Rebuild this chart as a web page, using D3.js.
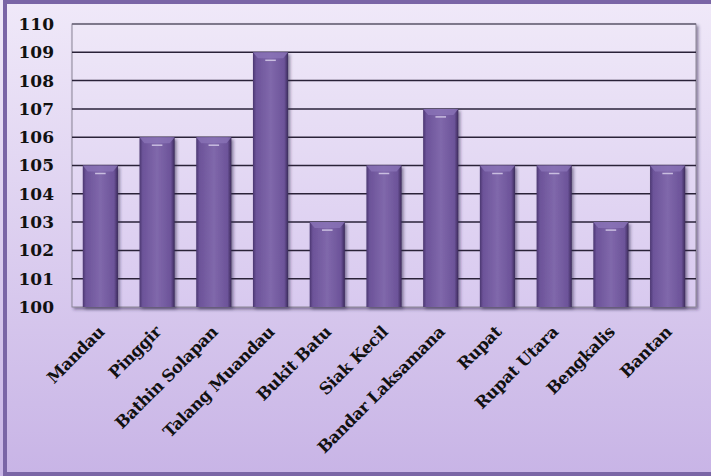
<!DOCTYPE html>
<html>
<head>
<meta charset="utf-8">
<script src="https://cdn.jsdelivr.net/npm/d3@7"></script>
<style>
  body { margin: 0; padding: 0; background: #fff; }
  svg { display: block; }
</style>
</head>
<body>
<div id="chart"></div>
<script>
// data
const kecamatan = ["Mandau", "Pinggir", "Bathin Solapan", "Talang Muandau", "Bukit Batu",
  "Siak Kecil", "Bandar Laksamana", "Rupat", "Rupat Utara", "Bengkalis", "Bantan"];
const nilai = [105, 106, 106, 109, 103, 105, 107, 105, 105, 103, 105];
const yTicks = [100, 101, 102, 103, 104, 105, 106, 107, 108, 109, 110];

const W = 711, H = 476;
const margin = {top: 24, right: 15, bottom: 169, left: 72};
const width = W - margin.left - margin.right,
    height = H - margin.top - margin.bottom;

const svg = d3.select("#chart")
  .append("svg")
    .attr("width", W)
    .attr("height", H);

const defs = svg.append("defs");

// outer background gradient
const bg = defs.append("linearGradient").attr("id", "bg")
  .attr("x1", 0).attr("y1", 0).attr("x2", 0).attr("y2", 1);
bg.append("stop").attr("offset", "0%").attr("stop-color", "#f0e9f9");
bg.append("stop").attr("offset", "100%").attr("stop-color", "#c8b4e6");

// plot area gradient
const pa = defs.append("linearGradient").attr("id", "pa")
  .attr("x1", 0).attr("y1", 0).attr("x2", 0).attr("y2", 1);
pa.append("stop").attr("offset", "0%").attr("stop-color", "#efe8f8");
pa.append("stop").attr("offset", "100%").attr("stop-color", "#d8c9ef");

// bar gradient (bevel look)
const bar = defs.append("linearGradient").attr("id", "bar")
  .attr("x1", 0).attr("y1", 0).attr("x2", 1).attr("y2", 0);
bar.append("stop").attr("offset", "0%").attr("stop-color", "#4a3670");
bar.append("stop").attr("offset", "9%").attr("stop-color", "#6c5399");
bar.append("stop").attr("offset", "50%").attr("stop-color", "#8068ab");
bar.append("stop").attr("offset", "89%").attr("stop-color", "#6c5399");
bar.append("stop").attr("offset", "100%").attr("stop-color", "#3b2a5a");

const shadow = defs.append("filter").attr("id", "shadow")
  .attr("x", "-20%").attr("y", "-5%").attr("width", "150%").attr("height", "115%");
shadow.append("feDropShadow").attr("dx", 2).attr("dy", 2).attr("stdDeviation", 1.5)
  .attr("flood-color", "#2b1f45").attr("flood-opacity", 0.5);

// background and frame
svg.append("rect")
  .attr("x", 0).attr("y", 0).attr("width", W).attr("height", H)
  .attr("fill", "url(#bg)");
svg.append("rect")
  .attr("x", 5).attr("y", 2).attr("width", W + 10).attr("height", H - 4)
  .attr("fill", "none")
  .attr("stroke", "#7a65a6")
  .attr("stroke-width", 4);

const g = svg.append("g")
  .attr("transform", `translate(${margin.left},${margin.top})`);

const x = d3.scaleBand()
  .domain(kecamatan)
  .range([0, width])
  .paddingInner(0.38)
  .paddingOuter(0.19);

const y = d3.scaleLinear()
  .domain([100, 110])
  .range([height, 0]);

// plot area
g.append("rect")
  .attr("width", width).attr("height", height)
  .attr("fill", "url(#pa)")
  .attr("stroke", "#8a8496")
  .attr("stroke-width", 1)
  .attr("filter", "url(#shadow)");

// gridlines
g.append("g")
  .selectAll("line")
  .data(yTicks.filter(d => d > 100))
  .join("line")
    .attr("x1", 0).attr("x2", width)
    .attr("y1", d => y(d)).attr("y2", d => y(d))
    .attr("stroke", d => d === 110 ? "#6b6478" : "#2a2238")
    .attr("stroke-width", 1.5);

// y axis labels
const yAxis = g.append("g")
  .call(d3.axisLeft(y).tickValues(yTicks).tickSize(0).tickPadding(18).tickFormat(d3.format("d")));
yAxis.select(".domain").remove();
yAxis.selectAll("text")
  .attr("font-family", "'DejaVu Serif', serif")
  .attr("font-weight", "bold")
  .attr("font-size", 17)
  .attr("fill", "#111");

// bars
const bars = g.append("g")
  .selectAll("g")
  .data(kecamatan)
  .join("g")
    .attr("transform", d => `translate(${x(d)},0)`);

bars.append("rect")
  .attr("y", (d, i) => y(nilai[i]))
  .attr("width", x.bandwidth())
  .attr("height", (d, i) => height - y(nilai[i]))
  .attr("fill", "url(#bar)")
  .attr("filter", "url(#shadow)");

// top bevel
bars.append("path")
  .attr("d", (d, i) => {
    const t = y(nilai[i]), w = x.bandwidth();
    return `M0,${t} L${w},${t} L${w - 5},${t + 6} L5,${t + 6} Z`;
  })
  .attr("fill", "#8a73b6")
  .attr("opacity", 0.8);

// highlight line near top
bars.append("line")
  .attr("x1", x.bandwidth() * 0.35)
  .attr("x2", x.bandwidth() * 0.65)
  .attr("y1", (d, i) => y(nilai[i]) + 8)
  .attr("y2", (d, i) => y(nilai[i]) + 8)
  .attr("stroke", "#c9bde0")
  .attr("stroke-width", 1.5);

// x labels
g.append("g")
  .selectAll("text")
  .data(kecamatan)
  .join("text")
    .attr("transform", d => `translate(${x(d) + x.bandwidth() / 2 + 5},${height + 26}) rotate(-45)`)
    .attr("text-anchor", "end")
    .attr("font-family", "'DejaVu Serif', serif")
    .attr("font-weight", "bold")
    .attr("font-size", 16.5)
    .attr("letter-spacing", -0.4)
    .attr("fill", "#111")
    .text(d => d);
</script>
</body>
</html>
